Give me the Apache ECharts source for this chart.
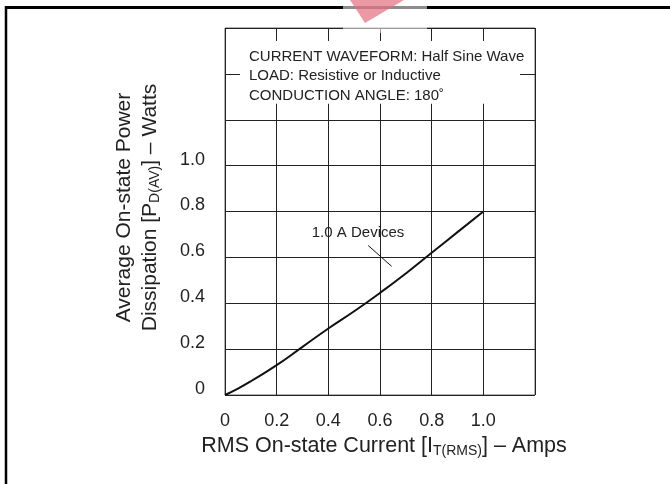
<!DOCTYPE html>
<html>
<head>
<meta charset="utf-8">
<script src="https://cdn.jsdelivr.net/npm/echarts@6/dist/echarts.min.js"></script>
<style>html,body{margin:0;padding:0;background:#fff}#c{width:670px;height:484px}</style>
</head>
<body>
<div id="c"></div>
<script>
// Data
const currentX = [0, 0.05, 0.1, 0.2, 0.3, 0.4, 0.5, 0.6, 0.7, 0.8, 0.9, 1.0];
const powerY   = [0, 0.028, 0.06, 0.13, 0.21, 0.29, 0.365, 0.445, 0.53, 0.62, 0.71, 0.8];
const xTickLabels = ['0', '0.2', '0.4', '0.6', '0.8', '1.0'];
const yTickLabels = ['0', '0.2', '0.4', '0.6', '0.8', '1.0'];
const curveLabel = '1.0 A Devices';
const labelPos = [0.515, 0.708];
const leaderFrom = [0.554, 0.652];
const leaderTo = [0.645, 0.561];
const boxLines = ['CURRENT WAVEFORM: Half Sine Wave', 'LOAD: Resistive or Inductive', 'CONDUCTION ANGLE: 180\u02DA'];
const boxFrom = [0.058, 1.543];
const boxTo = [1.142, 1.27];

const FONT = 'Liberation Sans, Arial, Helvetica, sans-serif';
const chart = echarts.init(document.getElementById('c'), null, {renderer: 'canvas'});

function tickFmt(labels) {
  return function (v) {
    const i = Math.round(v / 0.2);
    return (i >= 0 && i < labels.length) ? labels[i] : '';
  };
}

chart.setOption({
  animation: false,
  backgroundColor: '#fff',
  grid: {left: 225, right: 135, top: 28, bottom: 89, show: true, borderColor: '#666', borderWidth: 1, backgroundColor: 'transparent'},
  xAxis: {
    type: 'value', min: 0, max: 1.2, interval: 0.2,
    axisLine: {show: false}, axisTick: {show: false},
    splitLine: {show: true, lineStyle: {color: '#222', width: 1}},
    axisLabel: {formatter: tickFmt(xTickLabels), color: '#222', fontSize: 18, fontFamily: FONT, margin: 17},
    name: 'RMS On-state Current [I{sub|T(RMS)}] \u2013 Amps',
    nameLocation: 'middle', nameGap: 31,
    nameTextStyle: {color: '#222', fontSize: 21.5, fontFamily: FONT, padding: [0, 0, 0, 8],
      rich: {sub: {fontSize: 14, fontFamily: FONT, color: '#222', padding: [11, 0, 0, 0]}}}
  },
  yAxis: {
    type: 'value', min: 0, max: 1.6, interval: 0.2,
    axisLine: {show: false}, axisTick: {show: false},
    splitLine: {show: true, lineStyle: {color: '#222', width: 1}},
    axisLabel: {formatter: tickFmt(yTickLabels), color: '#222', fontSize: 18, fontFamily: FONT, margin: 20, verticalAlign: 'bottom', lineHeight: 12},
    name: 'Average On-state Power\nDissipation [P{sub|D(AV)}] \u2013 Watts',
    nameLocation: 'middle', nameGap: 62, nameRotate: 90,
    nameTextStyle: {color: '#222', fontSize: 21, fontFamily: FONT, lineHeight: 26, padding: [0, 0, 0, 8],
      rich: {sub: {fontSize: 14, fontFamily: FONT, color: '#222', lineHeight: 26, padding: [11, 0, 0, 0]}}}
  },
  graphic: [
    {type: 'line', shape: {x1: 5, y1: 7.5, x2: 670, y2: 7.5}, style: {stroke: '#000', lineWidth: 3}, z: 100},
    {type: 'line', shape: {x1: 6, y1: 6, x2: 6, y2: 484}, style: {stroke: '#000', lineWidth: 2.5}, z: 100},
    {type: 'rect', shape: {x: 343, y: 0, width: 84, height: 33}, style: {fill: 'rgba(255,255,255,0.55)'}, z: 101},
    {type: 'polygon', shape: {points: [[350, 0], [404, 0], [365, 23]]}, style: {fill: 'rgba(226,110,125,0.7)'}, z: 102}
  ],
  series: [{
    type: 'line',
    data: currentX.map((x, i) => [x, powerY[i]]),
    smooth: true, symbol: 'none',
    lineStyle: {color: '#111', width: 2},
    markArea: {
      silent: true,
      itemStyle: {color: '#fff'},
      label: {show: true, position: 'insideLeft', distance: 9, offset: [0, 3.5], color: '#222', fontSize: 15, lineHeight: 19.5, fontFamily: FONT,
        formatter: boxLines.join('\n')},
      data: [[{coord: boxFrom}, {coord: boxTo}]]
    },
    markLine: {
      silent: true, symbol: 'none',
      lineStyle: {color: '#111', width: 1, type: 'solid'},
      label: {show: false},
      data: [[{coord: leaderFrom}, {coord: leaderTo}]]
    },
    markPoint: {
      silent: true, symbol: 'circle', symbolSize: 0,
      label: {show: true, position: 'inside', color: '#222', fontSize: 15, fontFamily: FONT, formatter: curveLabel},
      data: [{coord: labelPos}]
    }
  }]
});
</script>
</body>
</html>
